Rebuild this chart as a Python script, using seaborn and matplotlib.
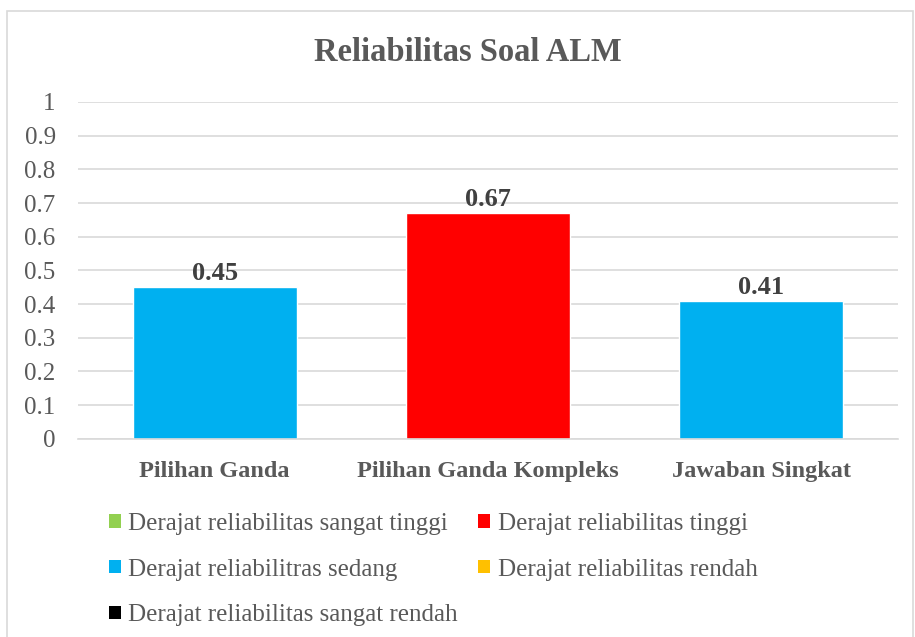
import pandas as pd
import matplotlib.pyplot as plt
import seaborn as sns
from matplotlib.patches import Patch, Rectangle

# data
categories = ['Pilihan Ganda', 'Pilihan Ganda Kompleks', 'Jawaban Singkat']
values = [0.45, 0.67, 0.41]
bar_colors = ['#00B0F0', '#FF0000', '#00B0F0']

legend_labels = ['Derajat reliabilitas sangat tinggi', 'Derajat reliabilitas tinggi',
                 'Derajat reliabilitras sedang', 'Derajat reliabilitas rendah',
                 'Derajat reliabilitas sangat rendah']
legend_colors = ['#92D050', '#FF0000', '#00B0F0', '#FFC000', '#000000']

yticks = [0, 0.1, 0.2, 0.3, 0.4, 0.5, 0.6, 0.7, 0.8, 0.9, 1]
ytick_labels = ['0', '0.1', '0.2', '0.3', '0.4', '0.5', '0.6', '0.7', '0.8', '0.9', '1']

df = pd.DataFrame({'Jenis': categories, 'Reliabilitas': values})

sns.set_style('white')
plt.rcParams['font.family'] = ['Liberation Serif', 'DejaVu Serif']

fig = plt.figure(figsize=(9.15, 6.37), dpi=100)
ax = fig.add_axes([0.0852, 0.311, 0.896, 0.529])

# outer chart border
fig.patches.append(Rectangle((0.0077, -0.01), 0.99, 0.993, transform=fig.transFigure,
                             fill=False, edgecolor='#D9D9D9', linewidth=1.2))

sns.barplot(data=df, x='Jenis', y='Reliabilitas', hue='Jenis', palette=bar_colors,
            width=0.6, legend=False, ax=ax, saturation=1)

ax.set_ylim(0, 1)
ax.set_xlim(-0.5, 2.5)
ax.set_yticks(yticks)
ax.set_yticklabels(ytick_labels, fontsize=18, color='#595959')
ax.yaxis.grid(True, color='#D9D9D9', linewidth=1.2)
ax.set_axisbelow(True)
ax.tick_params(axis='y', length=0, pad=16)
ax.tick_params(axis='x', length=0, pad=16)
for lbl in ax.get_xticklabels():
    lbl.set_fontsize(17.5)
    lbl.set_fontweight('bold')
    lbl.set_color('#595959')
ax.set_xlabel('')
ax.set_ylabel('')
for s in ['top', 'right', 'left']:
    ax.spines[s].set_visible(False)
ax.spines['bottom'].set_color('#D9D9D9')
ax.spines['bottom'].set_linewidth(1.2)

for i, v in enumerate(values):
    ax.text(i, v + 0.006, f'{v:.2f}', ha='center', va='bottom', fontsize=19,
            fontweight='bold', color='#404040')

fig.text(0.511, 0.918, 'Reliabilitas Soal ALM', ha='center', va='center',
         fontsize=23.5, fontweight='bold', color='#595959')

# legend filled row by row like the original
order = [0, 2, 4, 1, 3]
handles = [Patch(facecolor=legend_colors[i], edgecolor='none') for i in order]
labels = [legend_labels[i] for i in order]
fig.legend(handles, labels, loc='upper left', bbox_to_anchor=(109 / 915, 0.195),
           ncol=2, frameon=False, fontsize=18, labelcolor='#595959',
           borderpad=0, borderaxespad=0,
           handlelength=0.46, handleheight=0.46, handletextpad=0.32,
           columnspacing=0.8, labelspacing=0.95)

fig.savefig('out.png', dpi=100)
